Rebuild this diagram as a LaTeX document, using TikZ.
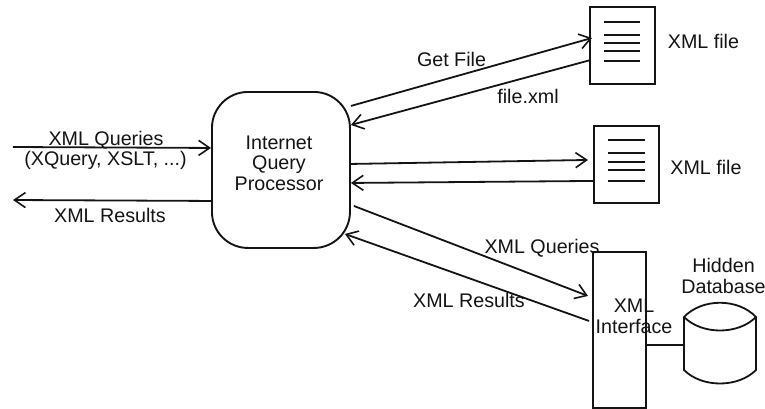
\documentclass[tikz,border=0pt]{standalone}
\usepackage{fontspec}
\setmainfont{Liberation Sans}
\usetikzlibrary{arrows.meta}
\definecolor{ink}{HTML}{141414}
\tikzset{
  x=1pt,y=-1pt,
  every path/.style={color=ink},
  boxshape/.style={draw=ink,line width=1.9pt,inner sep=0pt,anchor=north west},
  wire/.style={draw=ink,line width=1.8pt},
  arrowline/.style={wire,-{Straight Barb[length=11pt,width=15pt,line width=1.6pt]}},
  textlabel/.style={text=ink,inner sep=0pt,anchor=base,align=center,font=\fontsize{19.7}{20.5}\selectfont},
  docline/.style={draw=ink,line width=1.9pt},
}
\begin{document}
\begin{tikzpicture}
\useasboundingbox (0,0) rectangle (765,408);
% main boxes
\node[boxshape,rounded corners=36pt,minimum width=138pt,minimum height=156pt] (proc) at (211,91) {};
\node[boxshape,minimum width=65pt,minimum height=77pt] (fileA) at (589,6) {};
\node[boxshape,minimum width=65pt,minimum height=77pt] (fileB) at (593,125) {};
\node[boxshape,minimum width=53pt,minimum height=156pt] (iface) at (592,251) {};
\node[inner sep=0pt,minimum width=72pt,minimum height=80pt,anchor=north west] (db) at (684,303) {};
\coordinate (inL) at (13,147);
\coordinate (outL) at (13,200);
% document text lines
\foreach \y in {22,35,43,51,61} \draw[docline] (604,\y) -- (640,\y);
\foreach \y in {140,153,162,170,181} \draw[docline] (608,\y) -- (645,\y);
% database cylinder
\draw[wire,line join=round] (684,317) .. controls (702,298) and (738,298) .. (756,317)
  -- (756,370) .. controls (738,388) and (702,388) .. (684,370) -- cycle;
\draw[wire] (684,317) .. controls (702,335) and (738,335) .. (756,317);
% connectors
\draw[arrowline] (inL) -- ([yshift=22pt]proc.west);
\draw[arrowline] ([yshift=-31pt]proc.west) -- (outL);
\draw[arrowline] ([yshift=64pt]proc.east) -- ([yshift=7.5pt,xshift=3pt]fileA.west);
\draw[arrowline] ([yshift=-15pt]fileA.west) -- ([yshift=45pt]proc.east);
\draw[arrowline] ([yshift=6pt]proc.east) -- ([yshift=4.5pt,xshift=-5pt]fileB.west);
\draw[arrowline] ([yshift=-16.5pt]fileB.west) -- ([yshift=-13pt]proc.east);
\draw[arrowline] ([yshift=-36pt,xshift=3pt]proc.east) -- ([yshift=34pt,xshift=-4pt]iface.west);
\draw[arrowline] ([yshift=9pt,xshift=-3pt]iface.west) -- ([yshift=-64pt,xshift=-6pt]proc.east);
\draw[wire] (iface.east |- 0,345) -- (db.west |- 0,345);
% labels
\node[textlabel] (procT) at (279,190) {Internet\\Query\\Processor};
\node[textlabel] (lq) at (106,145) {XML Queries};
\node[textlabel] (lx) at (105.5,165) {(XQuery, XSLT, ...)};
\node[textlabel] (lr) at (110,222) {XML Results};
\node[textlabel] (gf) at (451.5,66) {Get File};
\node[textlabel] (fx) at (528,103) {file.xml};
\node[textlabel] (fa) at (703.5,48) {XML file};
\node[textlabel] (fb) at (706,174) {XML file};
\node[textlabel] (q2) at (542,253) {XML Queries};
\node[textlabel] (r2) at (469,307) {XML Results};
\node[textlabel] (it) at (634,333) {XML\\Interface};
\node[textlabel] (hd) at (723.5,293) {Hidden\\Database};
\end{tikzpicture}
\end{document}
